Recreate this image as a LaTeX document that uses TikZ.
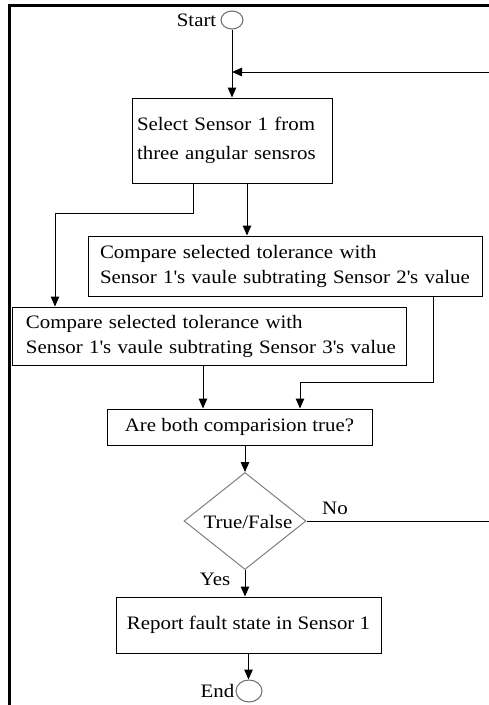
\documentclass[tikz,border=0pt]{standalone}
\usepackage{fontspec}
\setmainfont{Liberation Serif}[FakeStretch=1.1]
\usetikzlibrary{arrows.meta,shapes.geometric,calc}
\newcommand{\qs}{\textquotesingle}
\begin{document}
\begin{tikzpicture}[x=1pt,y=-1pt,
 every node/.style={font=\fontsize{19}{25}\selectfont},
 box/.style={draw=black,line width=1pt,inner sep=0pt,align=left},
 term/.style={draw=gray!85!black,ellipse,line width=1pt,inner sep=0pt},
 arr/.style={-{Triangle[length=10pt,width=8.5pt]},line width=1pt},
 conn/.style={line width=1pt},
 lbl/.style={inner sep=0pt}]
\useasboundingbox (0,0) rectangle (489,705);
\fill[white] (0,0) rectangle (489,705);
\draw[line width=3pt] (9.5,705) -- (9.5,5.5) -- (489,5.5);

\node[term,minimum width=22pt,minimum height=18pt] (st) at (232,20) {};
\node[lbl,anchor=east] (stt) at ([xshift=-4pt]st.west) {Start};

\node[box,minimum width=200pt,minimum height=85pt,text width=190pt,font=\fontsize{19}{29}\selectfont] (b1) at (232,140.5)
  {\mbox{Select Sensor 1 from}\\\mbox{three angular sensros}};
\node[box,minimum width=394pt,minimum height=60pt,text width=370pt] (b2) at (285,266)
  {\mbox{Compare selected tolerance with}\\\mbox{Sensor 1\qs s vaule subtrating Sensor 2\qs s value}};
\node[box,minimum width=394pt,minimum height=58pt,text width=366pt] (b3) at (209,336)
  {\mbox{Compare selected tolerance with}\\\mbox{Sensor 1\qs s vaule subtrating Sensor 3\qs s value}};
\node[box,minimum width=265pt,minimum height=36pt,align=center] (b4) at (239.5,427) {Are both comparision true?};
\node[diamond,draw=gray,line width=1pt,minimum width=122pt,minimum height=97pt,inner sep=0pt] (tf) at (245,521) {};
\node[lbl] (tft) at (248,522) {True/False};
\node[box,minimum width=265pt,minimum height=56pt,align=center] (b5) at (248.5,625) {Report fault state in Sensor 1};
\node[term,minimum width=26pt,minimum height=22pt] (en) at (249,691) {};
\node[lbl,anchor=east] (ent) at ([xshift=-1pt]en.west) {End};

\coordinate (loopR) at (489,72);
\coordinate (noR) at (489,521);

\draw[arr] (st.south) -- (b1.north);
\draw[arr] (loopR) -- (loopR -| st.south);
\draw[arr] ([xshift=-39pt]b1.south) -- ++(0,30) -| ([xshift=-154pt]b3.north);
\draw[arr] ([xshift=15pt]b1.south) -- ([xshift=15pt]b1.south |- b2.north);
\draw[arr] ([xshift=148pt]b2.south) -- ++(0,86) -| ([xshift=60.5pt]b4.north);
\draw[arr] ([xshift=-6pt]b3.south) -- ([xshift=-6pt]b3.south |- b4.north);
\draw[arr] (b4.south -| tf.north) -- (tf.north);
\draw[conn] (tf.east) -- (noR);
\node[lbl] (no) at (335,508) {No};
\draw[arr] (tf.south) -- (tf.south |- b5.north);
\node[lbl] (yes) at (215,579) {Yes};
\draw[arr] (b5.south) -- (b5.south |- en.north);
\end{tikzpicture}
\end{document}
